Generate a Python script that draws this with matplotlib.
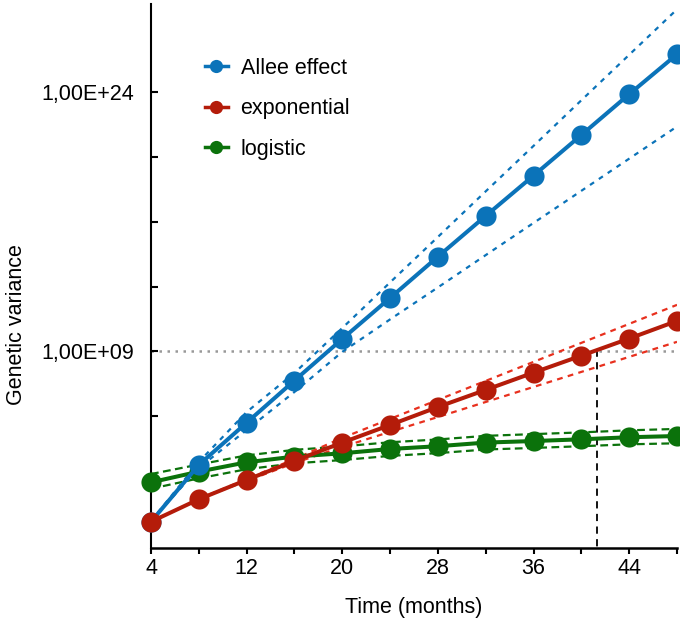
import numpy as np
import matplotlib
matplotlib.use('Agg')
from matplotlib import pyplot as plt
from matplotlib.lines import Line2D
from matplotlib.ticker import FixedLocator, FixedFormatter

plt.rcParams['font.family'] = ['Liberation Sans', 'DejaVu Sans']
plt.rcParams['font.size'] = 15.5

# time points (months)
months = [4, 8, 12, 16, 20, 24, 28, 32, 36, 40, 44, 48]

# log10 of the genetic variance
allee = [-0.86, 2.43, 4.87, 7.31, 9.72, 12.09, 14.48, 16.84, 19.17, 21.52, 23.88, 26.19]
allee_hi = [-0.82, 2.60, 5.49, 7.75, 10.35, 12.99, 15.62, 18.26, 20.89, 23.53, 26.16, 28.79]
allee_lo = [-0.82, 2.25, 4.45, 6.65, 8.97, 10.85, 12.70, 14.57, 16.43, 18.29, 20.15, 22.01]

expo = [-0.86, 0.44, 1.56, 2.66, 3.72, 4.74, 5.78, 6.77, 7.77, 8.75, 9.74, 10.76]
# bands for exponential start at 8 months
expo_hi = [0.46, 1.61, 2.77, 3.99, 5.09, 6.19, 7.29, 8.39, 9.49, 10.59, 11.69]
expo_lo = [0.46, 1.50, 2.54, 3.47, 4.34, 5.20, 6.07, 6.94, 7.81, 8.68, 9.55]

logist = [1.42, 2.04, 2.58, 2.91, 3.10, 3.35, 3.51, 3.72, 3.81, 3.91, 4.03, 4.10]
logist_hi = [1.90, 2.45, 2.98, 3.30, 3.50, 3.74, 3.90, 4.11, 4.21, 4.31, 4.43, 4.51]
logist_lo = [1.05, 1.65, 2.18, 2.52, 2.71, 2.95, 3.11, 3.32, 3.41, 3.51, 3.62, 3.68]

threshold = 9.0      # 1,00E+09
cross_month = 41.3   # where exponential reaches the threshold

ytick_exp = [1.5, 5.25, 9.0, 12.75, 16.5, 20.25, 24.0]
ytick_labels = ['', '', '1,00E+09', '', '', '', '1,00E+24']

blue = '#0b73b9'
red = '#b41c0a'
red_dash = '#e8301e'
green = '#0b720b'

fig = plt.figure(figsize=(6.8, 6.21), dpi=100)
ax = fig.add_axes([151/680, 1-548/621, (677-151)/680, (548-4)/621])
ax.set_yscale('log')

def p(v):
    return 10.0**np.array(v)

ax.plot(months, p(logist_hi), color=green, lw=1.6, ls=(0, (3.5, 2)), zorder=2)
ax.plot(months, p(logist_lo), color=green, lw=1.6, ls=(0, (3.5, 2)), zorder=2)
ax.plot(months, p(allee_hi), color=blue, lw=1.6, ls=(0, (2.2, 2.6)), zorder=2)
ax.plot(months, p(allee_lo), color=blue, lw=1.6, ls=(0, (2.2, 2.6)), zorder=2)
ax.plot(months[1:], p(expo_hi), color=red_dash, lw=1.6, ls=(0, (2.6, 2.4)), zorder=2)
ax.plot(months[1:], p(expo_lo), color=red_dash, lw=1.6, ls=(0, (2.6, 2.4)), zorder=2)

ax.plot([4, 48], [10**threshold]*2, color='#999999', lw=1.8, ls=(0, (1, 2.2)), zorder=1)
ax.plot([cross_month]*2, [10**-3, 10**threshold], color='k', lw=1.3, ls=(0, (4, 3)), zorder=1)

mk = dict(marker='o', ms=14.5, mew=0, lw=2.9, clip_on=False)
ax.plot(months, p(logist), color=green, zorder=3, **mk)
ax.plot(months, p(allee), color=blue, zorder=4, **mk)
ax.plot(months, p(expo), color=red, zorder=5, **mk)

ax.set_xlim(4, 48)
ax.set_ylim(10**-2.38, 10**29.1)

ax.set_xticks([4, 12, 20, 28, 36, 44])
ax.set_xticks([8, 16, 24, 32, 40, 48], minor=True)
ax.yaxis.set_major_locator(FixedLocator(p(ytick_exp)))
ax.yaxis.set_major_formatter(FixedFormatter(ytick_labels))
ax.yaxis.set_minor_locator(FixedLocator([]))

ax.tick_params(axis='x', which='both', direction='out', length=4.5, width=1.5, pad=3)
ax.tick_params(axis='y', which='both', direction='in', length=5, width=1.5, pad=12)

for s in ['top', 'right']:
    ax.spines[s].set_visible(False)
ax.spines['left'].set_linewidth(1.5)
ax.spines['bottom'].set_linewidth(1.8)

ax.set_xlabel('Time (months)', labelpad=13)
ax.set_ylabel('Genetic variance')
ax.yaxis.set_label_coords(-0.236, 0.41)

handles = [
    Line2D([], [], color=blue, marker='o', ms=9.5, mew=0, lw=2.5),
    Line2D([], [], color=red, marker='o', ms=9.5, mew=0, lw=2.5),
    Line2D([], [], color=green, marker='o', ms=9.5, mew=0, lw=2.5),
]
ax.legend(handles, ['Allee effect', 'exponential', 'logistic'],
          loc='upper left', bbox_to_anchor=(205/680, 1-58/621),
          bbox_transform=fig.transFigure, frameon=False,
          handlelength=1.05, handletextpad=0.6, labelspacing=0.9,
          borderpad=0, borderaxespad=0)

fig.savefig('out.png', dpi=100)
